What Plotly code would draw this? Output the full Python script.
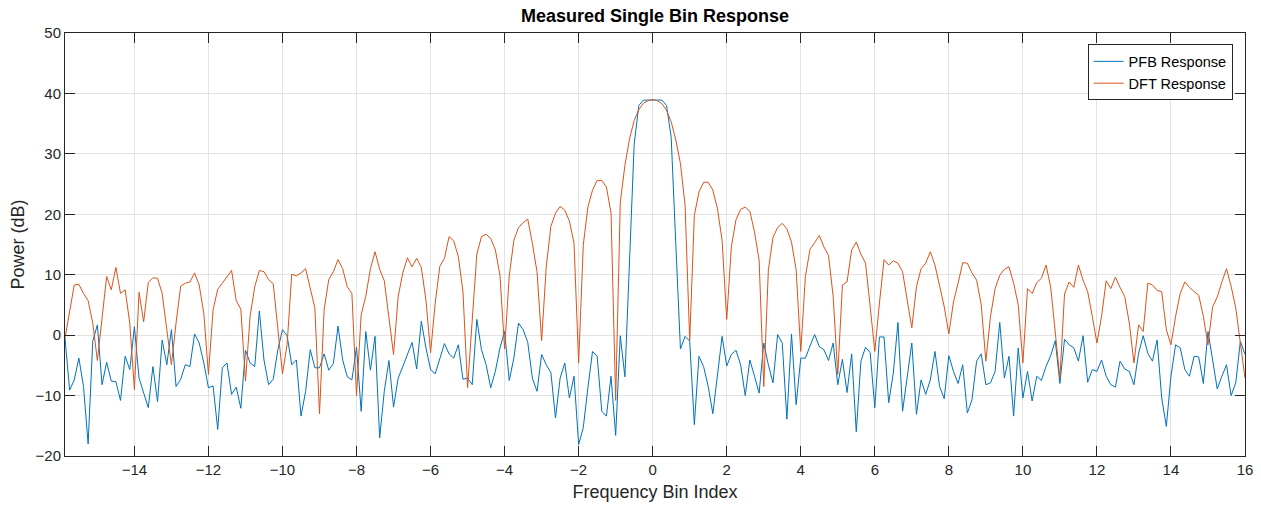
import numpy as np
import plotly.graph_objects as go

# Frequency bin index grid (1/8-bin resolution, 256 points)
bin_index = np.arange(-127, 129) / 8.0

pfb_response = [
    -0.5, -9.1, -7.4, -3.8, -8.5, -18.0, -1.0, 1.7,
    -8.2, -4.5, -7.6, -7.7, -10.8, -3.5, -5.7, 1.4,
    -7.1, -9.6, -12.0, -5.2, -11.0, -0.8, -4.9, 0.9,
    -8.5, -7.3, -4.9, -5.2, 0.2, -1.3, -4.6, -8.7,
    -8.4, -15.6, -5.4, -4.6, -9.8, -8.6, -12.1, -2.5,
    -4.6, -5.2, 4.0, -4.1, -8.2, -7.3, -2.4, 0.9,
    -0.1, -4.9, -4.1, -13.4, -9.3, -2.4, -5.4, -5.4,
    -3.1, -5.8, -4.7, 1.5, -4.1, -6.9, -7.4, -2.0,
    -12.6, 0.6, -5.8, -0.2, -17.0, -9.3, -4.2, -11.9,
    -7.1, -5.2, -3.2, -1.2, -5.6, 2.3, -2.1, -5.7,
    -6.4, -3.8, -1.4, -3.1, -3.8, -1.6, -7.3, -7.1,
    -8.2, 2.6, -2.4, -4.9, -8.7, -6.0, -2.1, 0.6,
    -7.5, -3.8, 2.0, 0.9, -1.2, -7.1, -9.3, -3.2,
    -4.9, -6.2, -13.7, -7.1, -4.6, -10.4, -6.8, -18.1,
    -15.3, -8.7, -2.7, -3.5, -12.6, -13.4, -6.8, -16.6,
    -0.1, -6.9, 13.0, 31.6, 38.0, 38.9, 38.9, 38.9,
    38.9, 38.9, 38.0, 32.7, 15.0, -2.3, -0.2, -1.0,
    -14.8, -3.5, -5.2, -8.5, -13.0, -6.8, -0.2, -5.1,
    -3.2, -2.5, -4.9, -10.0, -4.1, -6.8, -9.6, -1.3,
    -4.9, -7.9, 0.1, -1.3, -13.9, 0.2, -11.5, -3.8,
    -3.8, -1.8, 0.1, -1.9, -2.4, -4.2, -1.3, -8.2,
    -4.0, -9.5, -3.1, -16.0, -4.3, -2.0, -2.9, -12.0,
    -0.3, -0.3, -11.2, -6.3, 2.1, -12.6, -6.8, -1.3,
    -13.1, -7.4, -9.8, -7.4, -2.7, -8.5, -10.5, -3.4,
    -6.0, -8.0, -4.9, -12.9, -10.7, -4.3, -3.1, -8.2,
    -7.9, -6.0, 2.1, -7.1, -3.5, -13.4, -2.1, -10.4,
    -6.0, -10.9, -6.8, -7.5, -5.2, -3.4, -0.9, -8.0,
    -0.7, -1.6, -2.1, -4.3, -0.1, -7.8, -5.7, -6.0,
    -4.1, -6.8, -8.2, -8.6, -4.3, -5.6, -6.0, -8.2,
    -3.0, -0.1, -3.0, -4.3, -0.8, -10.4, -15.1, -6.8,
    -1.6, -2.1, -5.7, -6.8, -3.5, -3.6, -8.0, 0.6,
    -4.1, -8.9, -6.8, -4.9, -10.0, -7.9, -1.0, -3.2,
]

dft_response = [
    -0.5, 4.0, 8.3, 8.4, 6.9, 5.7, 2.0, -4.2,
    3.0, 9.7, 7.5, 11.2, 6.9, 7.5, 2.0, -9.0,
    7.1, 2.2, 8.7, 9.5, 9.4, 6.9, 0.9, -4.9,
    2.0, 8.1, 8.6, 8.8, 10.3, 8.3, 3.6, -6.5,
    4.2, 7.6, 8.6, 9.6, 10.7, 5.7, 4.3, -7.6,
    3.1, 8.0, 10.7, 10.5, 9.2, 8.5, 1.0, -6.4,
    -1.5, 10.1, 9.8, 10.3, 11.0, 7.7, 4.5, -13.0,
    4.2, 9.2, 10.5, 12.5, 11.0, 8.0, 6.9, -10.0,
    3.4, 6.4, 11.0, 13.8, 10.9, 9.0, 3.1, -3.2,
    6.4, 10.3, 12.8, 11.3, 12.7, 11.2, 5.8, -2.9,
    5.3, 11.4, 12.7, 16.3, 15.6, 13.0, 7.2, -8.7,
    2.5, 13.4, 16.3, 16.7, 16.0, 14.1, 9.9, -2.3,
    9.8, 15.7, 17.8, 18.6, 19.2, 15.2, 10.5, -0.9,
    11.3, 18.0, 20.2, 21.3, 20.7, 18.9, 15.2, -4.6,
    14.9, 21.2, 24.0, 25.6, 25.6, 24.5, 20.2, -10.8,
    22.0, 28.1, 32.5, 35.5, 37.3, 38.4, 38.8, 39.0,
    38.8, 38.3, 37.2, 35.3, 32.3, 28.4, 21.5, -0.9,
    19.8, 23.7, 25.3, 25.3, 24.0, 20.9, 15.7, 2.6,
    14.6, 19.1, 20.8, 21.2, 20.5, 17.1, 12.4, -8.5,
    10.8, 16.2, 17.8, 18.5, 17.6, 15.4, 10.8, -2.7,
    9.7, 14.2, 15.3, 16.5, 14.6, 13.2, 6.4, -6.5,
    8.3, 8.8, 14.1, 15.4, 13.4, 11.9, 4.7, -2.7,
    5.3, 12.5, 11.6, 12.3, 11.9, 10.5, 5.8, 1.2,
    8.0, 11.0, 11.9, 13.8, 11.6, 8.0, 4.7, 0.2,
    5.5, 8.6, 12.0, 11.9, 10.3, 9.1, 5.0, -4.3,
    3.1, 7.7, 9.9, 10.9, 11.3, 8.6, 5.0, -4.6,
    7.7, 6.9, 8.7, 9.4, 11.6, 8.0, 0.1, -7.1,
    6.8, 8.8, 7.9, 11.6, 9.1, 7.2, 3.1, -1.3,
    3.1, 9.0, 7.7, 9.6, 7.9, 6.4, 2.0, -4.6,
    1.7, 0.6, 8.6, 8.3, 7.4, 7.2, 0.9, -1.6,
    3.1, 6.9, 8.8, 7.9, 7.2, 6.6, 3.1, -1.6,
    4.7, 6.3, 8.8, 11.0, 8.1, 4.5, -1.3, -7.1,
]

x_tick_vals = [-14, -12, -10, -8, -6, -4, -2, 0, 2, 4, 6, 8, 10, 12, 14, 16]
y_tick_vals = [-20, -10, 0, 10, 20, 30, 40, 50]

FONT = "Liberation Sans, Arial, Helvetica, sans-serif"
AX_COLOR = "#262626"

fig = go.Figure()
fig.add_trace(go.Scatter(x=bin_index, y=pfb_response, mode="lines",
                         name="PFB Response",
                         line=dict(color="#0072BD", width=1)))
fig.add_trace(go.Scatter(x=bin_index, y=dft_response, mode="lines",
                         name="DFT Response",
                         line=dict(color="#D95319", width=1)))

axis_common = dict(
    showline=True, linecolor=AX_COLOR, linewidth=1, mirror="ticks",
    ticks="inside", ticklen=10, tickcolor=AX_COLOR, tickwidth=1,
    showgrid=True, gridcolor="#E3E3E3", gridwidth=1,
    zeroline=False, automargin=False,
    tickfont=dict(family=FONT, size=15, color=AX_COLOR),
)

fig.update_layout(
    width=1261, height=507,
    margin=dict(l=65, r=16, t=33, b=51),
    paper_bgcolor="white", plot_bgcolor="white",
    title=dict(text="<b>Measured Single Bin Response</b>",
               x=0.5, xref="paper", xanchor="center",
               y=1 - 16 / 507, yref="container", yanchor="middle",
               font=dict(family=FONT, size=18, color="#000000")),
    xaxis=dict(range=[-15.875, 16], tickvals=x_tick_vals,
               title=dict(text="Frequency Bin Index", standoff=8,
                          font=dict(family=FONT, size=18, color=AX_COLOR)),
               **axis_common),
    yaxis=dict(range=[-20, 50], tickvals=y_tick_vals,
               title=dict(text="Power (dB)", standoff=6,
                          font=dict(family=FONT, size=18, color=AX_COLOR)),
               **axis_common),
    legend=dict(x=0.9895, y=0.973, xanchor="right", yanchor="top",
                bgcolor="white", bordercolor=AX_COLOR, borderwidth=1,
                font=dict(family=FONT, size=14.5, color="#000000"),
                tracegroupgap=0, itemwidth=30),
    showlegend=True,
)

fig.write_html("out.html")
